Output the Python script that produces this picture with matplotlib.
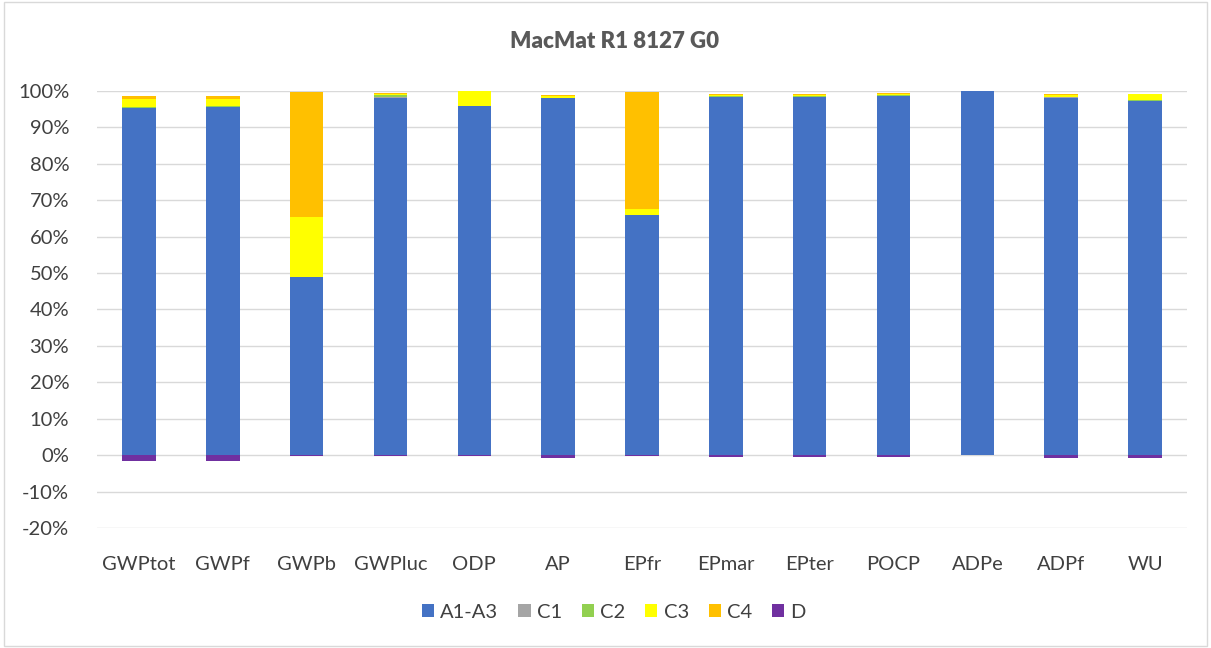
import numpy as np
import matplotlib.pyplot as plt
from matplotlib.ticker import PercentFormatter

plt.rcParams["font.family"] = ["Lato", "DejaVu Sans"]
plt.rcParams["axes.unicode_minus"] = False

# ── data (fractions of total) ──────────────────────────
categories = ["GWPtot", "GWPf", "GWPb", "GWPluc", "ODP", "AP", "EPfr",
              "EPmar", "EPter", "POCP", "ADPe", "ADPf", "WU"]
a1_a3 = [0.953, 0.956, 0.490, 0.982, 0.960, 0.980, 0.660,
         0.983, 0.983, 0.986, 0.9995, 0.982, 0.973]
c1 = [0.001, 0.001, 0.000, 0.001, 0.000, 0.001, 0.000,
      0.001, 0.001, 0.001, 0.0, 0.001, 0.000]
c2 = [0.001, 0.001, 0.000, 0.005, 0.000, 0.001, 0.000,
      0.002, 0.001, 0.001, 0.0, 0.001, 0.001]
c3 = [0.022, 0.021, 0.163, 0.003, 0.039, 0.004, 0.015,
      0.004, 0.004, 0.003, 0.0, 0.004, 0.018]
c4 = [0.008, 0.007, 0.344, 0.003, 0.001, 0.004, 0.322,
      0.003, 0.004, 0.003, 0.0, 0.004, 0.001]
d = [-0.015, -0.015, -0.003, -0.003, -0.002, -0.008, -0.002,
     -0.006, -0.006, -0.006, 0.0, -0.008, -0.008]

series = [("A1-A3", a1_a3, "#4472C4"), ("C1", c1, "#A5A5A5"),
          ("C2", c2, "#92D050"), ("C3", c3, "#FFFF00"),
          ("C4", c4, "#FFC000")]

fig = plt.figure(figsize=(12.11, 6.48), dpi=100)
fig.patches.append(plt.Rectangle((0.003, 0.003), 0.994, 0.994, transform=fig.transFigure,
                                 fill=False, edgecolor="#D9D9D9", lw=1))
ax = fig.add_axes([97 / 1211, 1 - 528 / 648, (1187 - 97) / 1211, (528 - 91) / 648])

x = np.arange(len(categories))
width = 0.4
bottom = np.zeros(len(categories))
for name, vals, col in series:
    vals = np.array(vals)
    ax.bar(x, vals, width, bottom=bottom, color=col, label=name,
           linewidth=0, zorder=3)
    bottom += vals
ax.bar(x, d, width, color="#7030A0", label="D", linewidth=0, zorder=3)

ax.set_ylim(-0.2, 1.0)
ax.set_xlim(-0.5, len(categories) - 0.5)
ax.set_yticks(np.arange(-0.2, 1.01, 0.1))
ax.yaxis.set_major_formatter(PercentFormatter(1.0, decimals=0))
ax.yaxis.grid(True, color="#D9D9D9", lw=1, zorder=0)
ax.set_xticks(x)
ax.set_xticklabels(categories)
ax.tick_params(axis="both", length=0, labelsize=14.5, colors="#404040")
ax.tick_params(axis="x", pad=20)
ax.tick_params(axis="y", pad=20)
for s in ax.spines.values():
    s.set_visible(False)

fig.suptitle("MacMat R1 8127 G0", x=615 / 1211, y=1 - 42 / 648, va="center",
             fontsize=16, fontweight="heavy", color="#595959")

ax.legend(loc="center", bbox_to_anchor=((614 - 97) / 1090, (528 - 612) / (528 - 91)),
          ncol=6, frameon=False, fontsize=14.5, handlelength=0.6,
          handleheight=0.6, columnspacing=1.0, handletextpad=0.3,
          labelcolor="#404040")

fig.savefig("out.png", dpi=100)
